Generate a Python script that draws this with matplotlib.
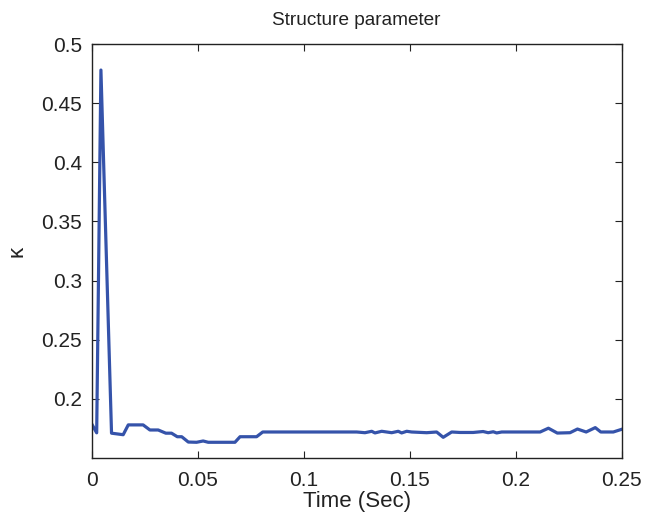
"""
Structure parameter kappa over time (MATLAB-style line plot).
"""

import matplotlib.pyplot as plt

# time samples (s) and structure parameter values
time = [0.0, 0.0024, 0.0044, 0.0094, 0.0149, 0.0173, 0.0243, 0.0275, 0.0314,
        0.0350, 0.0377, 0.0404, 0.0425, 0.0456, 0.0495, 0.0526, 0.0550,
        0.0676, 0.0700, 0.0778, 0.0807, 0.1250, 0.1289, 0.1321, 0.1336,
        0.1368, 0.1415, 0.1446, 0.1462, 0.1486, 0.1509, 0.1580, 0.1627,
        0.1658, 0.1698, 0.1737, 0.1799, 0.1846, 0.1870, 0.1894, 0.1910,
        0.1934, 0.1958, 0.2115, 0.2154, 0.2196, 0.2256, 0.2291, 0.2332,
        0.2375, 0.2401, 0.2460, 0.2500]
kappa = [0.179, 0.1713, 0.478, 0.171, 0.1697, 0.178, 0.178, 0.1737, 0.1737,
         0.171, 0.171, 0.168, 0.168, 0.1635, 0.1633, 0.1644, 0.1633,
         0.1633, 0.168, 0.168, 0.172, 0.172, 0.1714, 0.1726, 0.1712,
         0.1726, 0.1714, 0.1726, 0.1712, 0.1726, 0.172, 0.1714, 0.172,
         0.1675, 0.172, 0.1716, 0.1716, 0.1724, 0.1714, 0.1722, 0.1712,
         0.172, 0.172, 0.172, 0.1752, 0.1711, 0.1714, 0.1745, 0.172,
         0.1757, 0.172, 0.172, 0.1743]

x_ticks = [0, 0.05, 0.1, 0.15, 0.2, 0.25]
x_tick_labels = ['0', '0.05', '0.1', '0.15', '0.2', '0.25']
y_ticks = [0.2, 0.25, 0.3, 0.35, 0.4, 0.45, 0.5]
y_tick_labels = ['0.2', '0.25', '0.3', '0.35', '0.4', '0.45', '0.5']

plt.rcParams['font.family'] = ['Liberation Sans', 'DejaVu Sans']

fig = plt.figure(figsize=(6.45, 5.18), dpi=100)
ax = fig.add_axes([0.142, 0.1158, 0.822, 0.7992])

ax.plot(time, kappa, color='#3553aa', linewidth=2.3)

ax.set_xlim(0, 0.25)
ax.set_ylim(0.15, 0.5)
ax.set_xticks(x_ticks)
ax.set_xticklabels(x_tick_labels)
ax.set_yticks(y_ticks)
ax.set_yticklabels(y_tick_labels)
ax.tick_params(direction='in', length=5, width=0.8, top=True, right=True,
               labelsize=15, colors='#222222')
ax.tick_params(axis='x', pad=9)
ax.tick_params(axis='y', pad=7)
for spine in ax.spines.values():
    spine.set_linewidth(1.0)
    spine.set_color('#222222')

ax.set_title('Structure parameter', fontsize=13.7, color='#222222', pad=14)
ax.set_xlabel('Time (Sec)', fontsize=16, color='#222222', labelpad=1)
ax.set_ylabel('κ', fontsize=16, color='#222222', labelpad=10)

fig.savefig('out.png', dpi=100, facecolor='white')
